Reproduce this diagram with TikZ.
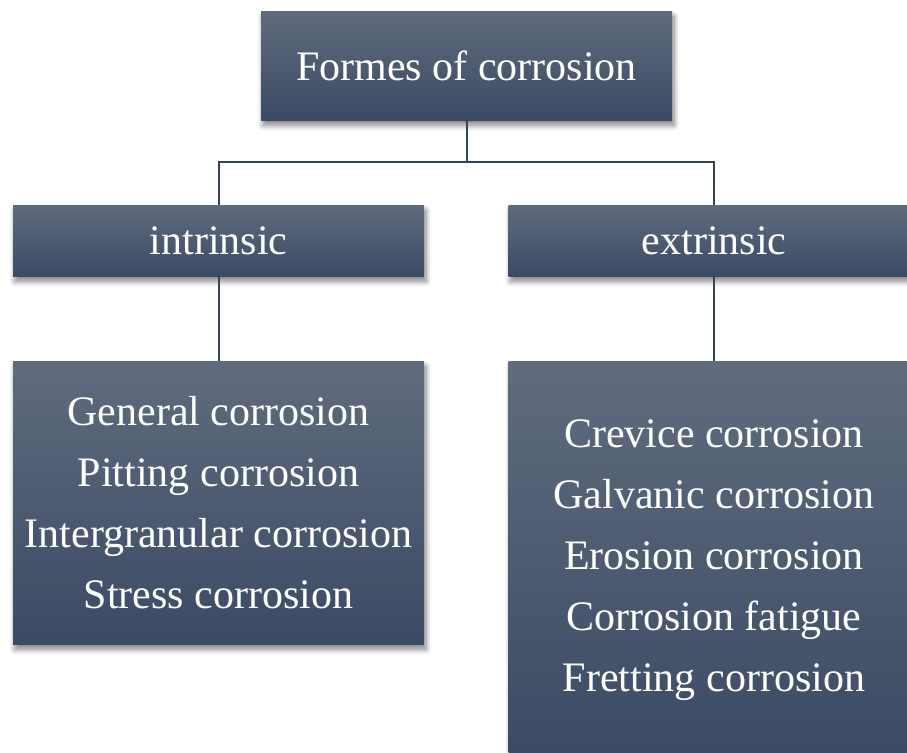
\documentclass[tikz,border=0pt]{standalone}
\usepackage{fontspec}
\setmainfont{Liberation Serif}
\usetikzlibrary{calc,positioning,shadows,shadows.blur}

\definecolor{boxtop}{HTML}{606B7D}
\definecolor{boxbot}{HTML}{3B4A64}
\definecolor{linecol}{HTML}{34425A}

\begin{document}
\begin{tikzpicture}[x=0.75pt,y=-0.75pt,
	box/.style={rectangle,top color=boxtop,bottom color=boxbot,text=white,
		minimum width=411*0.75pt,inner sep=0pt,align=center,
		font=\fontsize{31.5}{45.75}\selectfont,
		blur shadow={shadow xshift=1.5pt,shadow yshift=-4pt,shadow blur radius=4pt,shadow blur steps=10,shadow opacity=50}},
	link/.style={draw=linecol,line width=1.5pt}
	]

	\clip (0,0) rectangle (907,753);

	\node[box,minimum height=109*0.75pt] (forms) at (466.5,65.5) {Formes of corrosion};

	\node[box,minimum height=71*0.75pt] (intr) at (218.5,240.5) {intrinsic};
	\node[box,minimum height=71*0.75pt] (extr) at (714,240.5) {extrinsic};

	\node[box,minimum height=283*0.75pt] (intrlist) at (218.5,502.5) {General corrosion\\Pitting corrosion\\Intergranular corrosion\\Stress corrosion};
	\node[box,minimum height=398*0.75pt] (extrlist) at (714,560) {Crevice corrosion\\Galvanic corrosion\\Erosion corrosion\\Corrosion fatigue\\Fretting corrosion};

	\coordinate (split) at (466.5,162);

	\draw[link] (forms.south) -- (split);
	\draw[link] (intr.north) |- (split) -| (extr.north);
	\draw[link] (intr.south) -- (intrlist.north);
	\draw[link] (extr.south) -- (extrlist.north);

\end{tikzpicture}
\end{document}
